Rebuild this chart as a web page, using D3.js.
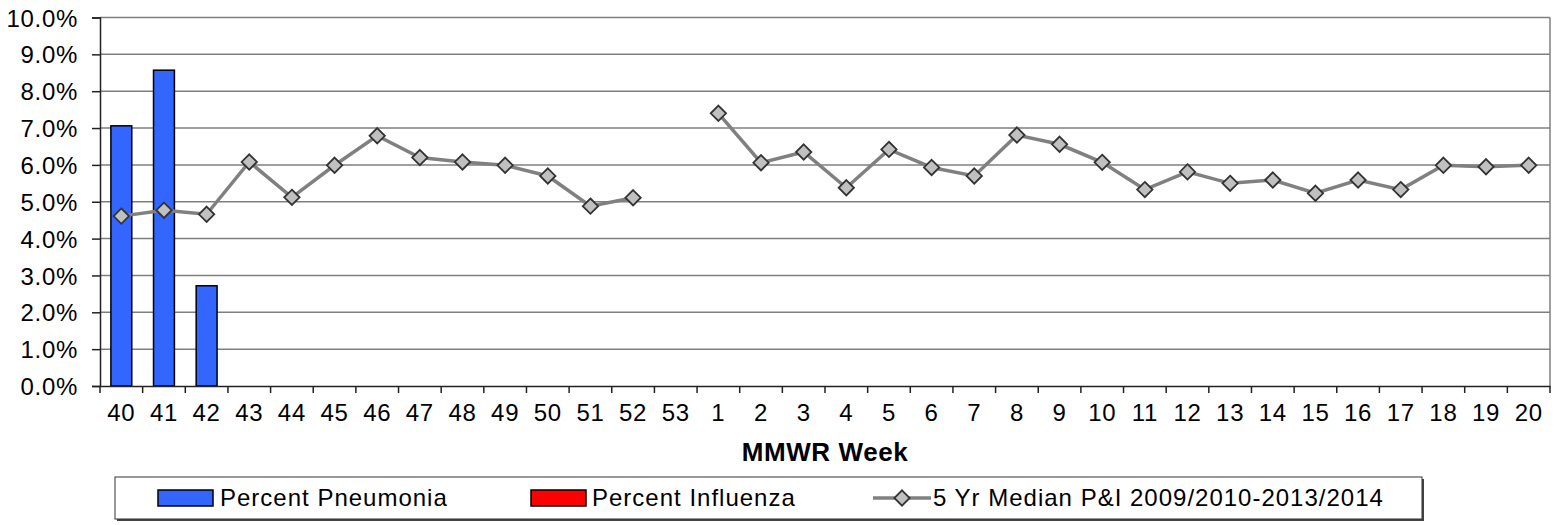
<!DOCTYPE html>
<html>
<head>
<meta charset="utf-8">
<script src="https://cdn.jsdelivr.net/npm/d3@7"></script>
<style>
  body { margin: 0; background: #fff; }
  text { font-family: "Liberation Sans", Arial, sans-serif; fill: #000; }
</style>
</head>
<body>
<script>
// MMWR weeks, season 40 -> 20
var weeks = ["40","41","42","43","44","45","46","47","48","49","50","51","52","53",
             "1","2","3","4","5","6","7","8","9","10","11","12","13","14","15","16","17","18","19","20"];
var pneumonia = [7.06, 8.57, 2.72, null, null, null, null, null, null, null, null, null, null, null,
                 null, null, null, null, null, null, null, null, null, null, null, null, null, null, null, null, null, null, null, null];
var influenza = [0, 0, 0, null, null, null, null, null, null, null, null, null, null, null,
                 null, null, null, null, null, null, null, null, null, null, null, null, null, null, null, null, null, null, null, null];
var median5yr = [4.61, 4.77, 4.66, 6.08, 5.12, 5.99, 6.79, 6.20, 6.08, 5.99, 5.70, 4.88, 5.11, null,
                 7.40, 6.06, 6.35, 5.38, 6.42, 5.93, 5.70, 6.81, 6.56, 6.07,
                 5.33, 5.81, 5.50, 5.59, 5.23, 5.59, 5.33, 5.99, 5.95, 5.99];
var yTicks = [0,1,2,3,4,5,6,7,8,9,10];
var legendLabels = ["Percent Pneumonia", "Percent Influenza", "5 Yr Median P&I 2009/2010-2013/2014"];

var width = 1559, height = 525;
var plotL = 100, plotR = 1550, plotT = 17.5, plotB = 386;

var svg = d3.select("body").append("svg")
    .attr("width", width)
    .attr("height", height);

var x = d3.scaleBand().domain(weeks).range([plotL, plotR]);
var y = d3.scaleLinear().domain([0, 10]).range([plotB, plotT]);

// gridlines
svg.append("g").selectAll("line")
    .data(yTicks.filter(function(d){ return d > 0; }))
    .enter().append("line")
    .attr("x1", plotL).attr("x2", plotR)
    .attr("y1", function(d){ return y(d); })
    .attr("y2", function(d){ return y(d); })
    .attr("stroke", "#7f7f7f")
    .attr("stroke-width", 1.5);
// right border
svg.append("line")
    .attr("x1", plotR).attr("x2", plotR)
    .attr("y1", plotT).attr("y2", plotB)
    .attr("stroke", "#7f7f7f").attr("stroke-width", 1.5);

// bars (influenza stacked on pneumonia)
var bw = x.bandwidth() * 0.49;
var bars = svg.append("g");
bars.selectAll("rect.pn")
    .data(weeks.filter(function(w, i){ return pneumonia[i] != null; }))
    .enter().append("rect")
    .attr("class", "pn")
    .attr("x", function(w){ return x(w) + (x.bandwidth() - bw) / 2; })
    .attr("width", bw)
    .attr("y", function(w){ return y(pneumonia[weeks.indexOf(w)]); })
    .attr("height", function(w){ return plotB - y(pneumonia[weeks.indexOf(w)]); })
    .attr("fill", "#3366ff")
    .attr("stroke", "#000")
    .attr("stroke-width", 1.5);
bars.selectAll("rect.fl")
    .data(weeks.filter(function(w, i){ return influenza[i] != null && influenza[i] > 0; }))
    .enter().append("rect")
    .attr("class", "fl")
    .attr("x", function(w){ return x(w) + (x.bandwidth() - bw) / 2; })
    .attr("width", bw)
    .attr("y", function(w){ var i = weeks.indexOf(w); return y(pneumonia[i] + influenza[i]); })
    .attr("height", function(w){ var i = weeks.indexOf(w); return y(pneumonia[i]) - y(pneumonia[i] + influenza[i]); })
    .attr("fill", "#ff0000")
    .attr("stroke", "#000")
    .attr("stroke-width", 1.5);

// axes
var yAxis = d3.axisLeft(y).tickValues(yTicks).tickSize(8).tickPadding(14)
    .tickFormat(function(d){ return d.toFixed(1) + "%"; });
var gy = svg.append("g").attr("transform", "translate(" + plotL + ",0)").call(yAxis);
gy.select(".domain").attr("stroke", "#222").attr("stroke-width", 1.5);
gy.selectAll(".tick line").attr("stroke", "#222").attr("stroke-width", 1.5);
gy.selectAll(".tick text").style("font-size", "24px").style("letter-spacing", "0.7px").attr("dy", "0.36em");

var xAxis = d3.axisBottom(x).tickSize(0).tickPadding(18);
var gx = svg.append("g").attr("transform", "translate(0," + plotB + ")").call(xAxis);
gx.select(".domain").attr("stroke", "#222").attr("stroke-width", 1.5);
gx.selectAll(".tick text").style("font-size", "24px").style("letter-spacing", "0.7px");
// tick marks between categories
svg.append("g").selectAll("line")
    .data(weeks.concat(["end"]))
    .enter().append("line")
    .attr("x1", function(w){ return w === "end" ? plotR : x(w); })
    .attr("x2", function(w){ return w === "end" ? plotR : x(w); })
    .attr("y1", plotB).attr("y2", plotB + 7)
    .attr("stroke", "#222").attr("stroke-width", 1.5);

svg.append("text")
    .attr("x", (plotL + plotR) / 2)
    .attr("y", 461)
    .attr("text-anchor", "middle")
    .style("font-size", "26px")
    .style("font-weight", "bold")
    .style("letter-spacing", "0.6px")
    .text("MMWR Week");

// median line
var line = d3.line()
    .defined(function(d){ return d != null; })
    .x(function(d, i){ return x(weeks[i]) + x.bandwidth() / 2; })
    .y(function(d){ return y(d); });
svg.append("path")
    .datum(median5yr)
    .attr("d", line)
    .attr("fill", "none")
    .attr("stroke", "#808080")
    .attr("stroke-width", 3.5);

var diamond = d3.symbol().type(d3.symbolDiamond2).size(150);
svg.append("g").selectAll("path")
    .data(median5yr.map(function(v, i){ return [weeks[i], v]; }).filter(function(d){ return d[1] != null; }))
    .enter().append("path")
    .attr("d", diamond)
    .attr("transform", function(d){ return "translate(" + (x(d[0]) + x.bandwidth() / 2) + "," + y(d[1]) + ")"; })
    .attr("fill", "#c0c0c0")
    .attr("stroke", "#333")
    .attr("stroke-width", 1.8);

// legend
var lg = svg.append("g");
lg.append("rect").attr("x", 117).attr("y", 479).attr("width", 1307).attr("height", 42).attr("fill", "#444");
lg.append("rect").attr("x", 115).attr("y", 477).attr("width", 1307).attr("height", 42)
    .attr("fill", "#fff").attr("stroke", "#333").attr("stroke-width", 1);

var ly = 498;
var legendFont = function(t){ t.style("font-size", "24px").style("letter-spacing", "1px").attr("dy", "0.35em"); };
lg.append("rect").attr("x", 158).attr("y", ly - 8).attr("width", 55).attr("height", 16)
    .attr("fill", "#3366ff").attr("stroke", "#000").attr("stroke-width", 1.5);
lg.append("text").attr("x", 220).attr("y", ly).call(legendFont).text(legendLabels[0]);
lg.append("rect").attr("x", 531).attr("y", ly - 8).attr("width", 55).attr("height", 16)
    .attr("fill", "#ff0000").attr("stroke", "#000").attr("stroke-width", 1.5);
lg.append("text").attr("x", 592).attr("y", ly).call(legendFont).text(legendLabels[1]);
lg.append("line").attr("x1", 873).attr("x2", 931).attr("y1", ly).attr("y2", ly)
    .attr("stroke", "#808080").attr("stroke-width", 3.5);
lg.append("path").attr("d", diamond).attr("transform", "translate(902," + ly + ")")
    .attr("fill", "#c0c0c0").attr("stroke", "#333").attr("stroke-width", 1.8);
lg.append("text").attr("x", 933).attr("y", ly).call(legendFont).text(legendLabels[2]);
</script>
</body>
</html>
